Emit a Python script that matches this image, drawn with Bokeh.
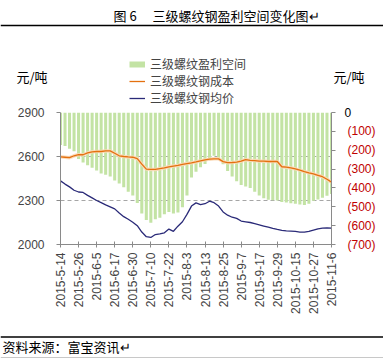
from math import pi
from bokeh.plotting import figure
from bokeh.layouts import column
from bokeh.models import (Range1d, LinearAxis, FixedTicker, Legend, LegendItem, Label)
from bokeh.embed import file_html
from bokeh.resources import INLINE

# ---- data (trading-day index, every 2nd trading day) ----
day_index = list(range(0, 121, 2))
tick_labels = ["2015-5-14", "2015-5-26", "2015-6-5", "2015-6-17", "2015-6-30",
               "2015-7-10", "2015-7-22", "2015-8-3", "2015-8-13", "2015-8-25",
               "2015-9-7", "2015-9-17", "2015-9-29", "2015-10-15", "2015-10-27",
               "2015-11-6"]

avg_price = [2434, 2412, 2393, 2370, 2358, 2355, 2335, 2318, 2300, 2285,
             2270, 2257, 2243, 2215, 2190, 2172, 2152, 2128, 2085, 2053,
             2048, 2068, 2073, 2080, 2105, 2090, 2125, 2155, 2205, 2262,
             2284, 2272, 2278, 2295, 2285, 2262, 2222, 2200, 2186, 2178,
             2160, 2155, 2150, 2142, 2134, 2126, 2118, 2110, 2103, 2097,
             2093, 2091, 2089, 2085, 2084, 2089, 2098, 2107, 2112, 2114, 2112]

cost = [2598, 2595, 2592, 2605, 2612, 2612, 2625, 2632, 2634, 2634,
        2638, 2638, 2622, 2605, 2600, 2597, 2595, 2586, 2548, 2514,
        2512, 2512, 2517, 2522, 2530, 2535, 2539, 2546, 2552, 2557,
        2563, 2570, 2577, 2582, 2584, 2584, 2565, 2558, 2559, 2562,
        2568, 2578, 2574, 2572, 2569, 2568, 2566, 2566, 2566, 2530,
        2527, 2522, 2516, 2507, 2497, 2489, 2482, 2472, 2462, 2445, 2425]

profit = [-172, -178, -192, -205, -246, -265, -280, -293, -308, -323,
          -330, -340, -361, -377, -397, -420, -440, -480, -535, -570,
          -585, -566, -558, -540, -528, -535, -530, -503, -440, -345,
          -314, -290, -273, -245, -230, -245, -275, -310, -340, -365,
          -385, -392, -400, -420, -440, -455, -463, -465, -467, -475,
          -477, -481, -484, -488, -490, -484, -468, -462, -452, -442, -432]

left_ticks = [2000, 2300, 2600, 2900]
right_ticks = [0, -100, -200, -300, -400, -500, -600, -700]
right_labels = ["0", "(100)", "(200)", "(300)", "(400)", "(500)", "(600)", "(700)"]

series_names = ["三级螺纹盈利空间", "三级螺纹钢成本", "三级螺纹钢均价"]

GREEN = "#c3e3a4"
ORANGE = "#e4700f"
HALO = "#fbd8b4"
NAVY = "#2a2a78"
AXIS = "#8a8a8a"
CJK = "Noto Sans CJK SC"
NUM = "Liberation Sans"
W = 383


def blank(height):
    f = figure(width=W, height=height, output_backend="svg", toolbar_location=None,
               x_range=Range1d(0, W), y_range=Range1d(height, 0),
               x_axis_type=None, y_axis_type=None,
               min_border=0, min_border_left=0, min_border_right=0,
               min_border_top=0, min_border_bottom=0)
    f.outline_line_color = None
    f.grid.visible = False
    f.frame_align = False
    return f


def txt(f, x, y, s, size="13px", color="black", font=CJK):
    f.add_layout(Label(x=x, y=y, text=s, text_font=font, text_font_size=size,
                       text_color=color, text_baseline="middle"))


# ---------------- top: document caption, units, legend ----------------
TOP_H = 107
top = blank(TOP_H)
txt(top, 113, 15, "图 6")
txt(top, 152, 15, "三级螺纹钢盈利空间变化图↵")
top.line([0, W], [25, 25], line_color="black", line_width=1.5)
txt(top, 16, 76, "元/吨")
txt(top, 333, 76, "元/吨")

# legend key renderers (kept outside the visible range of this panel)
off_x, off_y = [-50, -40], [-50, -50]
g_patch = top.line(off_x, off_y, line_color=GREEN, line_width=6)
g_cost = top.line(off_x, off_y, line_color=ORANGE, line_width=1.3)
g_price = top.line(off_x, off_y, line_color=NAVY, line_width=1.3)
legend = Legend(items=[LegendItem(label=series_names[0], renderers=[g_patch]),
                       LegendItem(label=series_names[1], renderers=[g_cost]),
                       LegendItem(label=series_names[2], renderers=[g_price])],
                location=(129, 1), orientation="vertical",
                label_text_font=CJK, label_text_font_size="12px",
                glyph_width=16, glyph_height=16, label_height=16, spacing=-1,
                padding=0, margin=0, label_standoff=5,
                border_line_color=None, background_fill_alpha=0)
top.add_layout(legend, "center")

# ---------------- main chart ----------------
p = figure(width=W, height=227, output_backend="svg", toolbar_location=None,
           x_range=Range1d(0, 120), y_range=Range1d(2000, 2900),
           min_border_left=60, min_border_right=52, min_border_top=5,
           min_border_bottom=90)
p.outline_line_color = None
p.frame_align = False
p.extra_y_ranges = {"right": Range1d(-700, 0)}

p.vbar(x=day_index, top=0, bottom=profit, width=1.35, y_range_name="right",
       fill_color=GREEN, line_color=None)
p.line(day_index, cost, line_color=HALO, line_width=3.5, line_alpha=0.9)
p.line(day_index, cost, line_color=ORANGE, line_width=1.3)
p.line(day_index, avg_price, line_color=NAVY, line_width=1.3)

p.xaxis.ticker = FixedTicker(ticks=[8 * i for i in range(len(tick_labels))])
p.xaxis.major_label_overrides = {8 * i: t for i, t in enumerate(tick_labels)}
p.xaxis.major_label_orientation = pi / 2
p.xaxis.major_label_text_font = NUM
p.xaxis.major_label_text_font_size = "12px"
p.xaxis.major_label_standoff = 5
p.xaxis.major_tick_in = 3
p.xaxis.major_tick_out = 3
p.xaxis.minor_tick_line_color = None
p.xaxis.axis_line_color = AXIS
p.xaxis.major_tick_line_color = AXIS

p.yaxis.ticker = FixedTicker(ticks=left_ticks)
p.yaxis.major_label_text_font = NUM
p.yaxis.major_label_text_font_size = "12px"
p.yaxis.major_label_standoff = 12
p.yaxis.major_tick_in = 0
p.yaxis.major_tick_out = 4
p.yaxis.minor_tick_line_color = None
p.yaxis.axis_line_color = AXIS
p.yaxis.major_tick_line_color = AXIS

# right axis, part 1: axis line, all ticks, black "0" label
ra0 = LinearAxis(y_range_name="right", ticker=FixedTicker(ticks=right_ticks))
ra0.major_label_overrides = {t: (l if t == 0 else "") for t, l in zip(right_ticks, right_labels)}
ra0.major_label_text_color = "black"
ra0.major_label_text_font = NUM
ra0.major_label_text_font_size = "12px"
ra0.major_label_standoff = 9
ra0.major_tick_in = 0
ra0.major_tick_out = 4
ra0.minor_tick_line_color = None
ra0.axis_line_color = AXIS
ra0.major_tick_line_color = AXIS
p.add_layout(ra0, "right")

# right axis, part 2: red bracketed negative labels
ra1 = LinearAxis(y_range_name="right", ticker=FixedTicker(ticks=right_ticks[1:]))
ra1.major_label_overrides = {t: l for t, l in zip(right_ticks[1:], right_labels[1:])}
ra1.major_label_text_color = "#c00000"
ra1.major_label_text_font = NUM
ra1.major_label_text_font_size = "12px"
ra1.major_label_standoff = -7
ra1.major_tick_in = 0
ra1.major_tick_out = 0
ra1.major_tick_line_color = None
ra1.minor_tick_line_color = None
ra1.axis_line_color = None
p.add_layout(ra1, "right")

p.xgrid.grid_line_color = None
p.ygrid.ticker = FixedTicker(ticks=[2300, 2600])
p.ygrid.grid_line_color = "#a6a6a6"
p.ygrid.grid_line_dash = "4 3"

# ---------------- footer: source ----------------
foot = blank(24)
foot.line([0, W], [2.5, 2.5], line_color="black", line_width=1.5)
txt(foot, 2, 12, "资料来源：富宝资讯↵")
foot.line([0, W], [23, 23], line_color="#c8c8c8", line_width=1)

layout = column(top, p, foot, spacing=0)
open("out.html", "w").write(file_html(layout, INLINE))
